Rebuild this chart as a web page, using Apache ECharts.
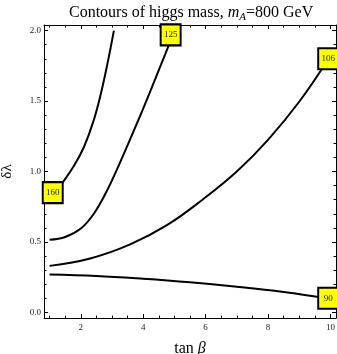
<!DOCTYPE html>
<html><head><meta charset="utf-8">
<script src="https://cdn.jsdelivr.net/npm/echarts@6/dist/echarts.min.js"></script>
<style>html,body{margin:0;padding:0;background:#fff}#c{width:337px;height:354px}</style>
</head><body><div id="c"></div>
<script>
// Contour lines (tan beta, delta lambda)
const tanBeta160 = [1.0, 1.4, 1.8, 2.1, 2.4, 2.65, 2.88, 3.06];
const dLambda160 = [0.80, 0.916, 1.048, 1.174, 1.354, 1.559, 1.794, 2.0];
const tanBeta125 = [1.0, 1.5, 2.0, 2.4, 2.8, 3.2, 3.7, 4.2, 4.7, 5.0];
const dLambda125 = [0.515, 0.535, 0.595, 0.695, 0.847, 1.035, 1.29, 1.555, 1.83, 2.0];
const tanBeta106 = [1.0, 2.3, 3.6, 4.8, 5.9, 7.0, 8.0, 9.0, 10.0];
const dLambda106 = [0.33, 0.383, 0.485, 0.625, 0.80, 1.0, 1.225, 1.495, 1.82];
const tanBeta90 = [1.0, 2.5, 4.0, 5.5, 7.0, 8.5, 10.0];
const dLambda90 = [0.268, 0.258, 0.238, 0.213, 0.182, 0.145, 0.097];
// Contour labels
const labelText = ['160', '125', '106', '90'];
const labelX = [1.10, 4.88, 9.93, 9.93];
const labelY = [0.85, 1.97, 1.80, 0.10];
// Ticks
const xMajorTicks = [2, 4, 6, 8, 10];
const xMinorTicks = [1, 1.5, 2.5, 3, 3.5, 4.5, 5, 5.5, 6.5, 7, 7.5, 8.5, 9, 9.5];
const yMajorTicks = [0, 0.5, 1.0, 1.5, 2.0];
const yMinorTicks = [0.1, 0.2, 0.3, 0.4, 0.6, 0.7, 0.8, 0.9, 1.1, 1.2, 1.3, 1.4, 1.6, 1.7, 1.8, 1.9];

const FONT = '"Liberation Serif", "Times New Roman", serif';
const X_MIN = 0.82, X_MAX = 10.18, Y_MIN = -0.04, Y_MAX = 2.04;

function zip(a, b) { return a.map((v, i) => [v, b[i]]); }

function xAx(pos, ticks, len, labels, line, extra) {
  return Object.assign({
    type: 'value', position: pos, min: X_MIN, max: X_MAX,
    axisLine: { show: line, onZero: false, lineStyle: { color: '#000', width: 1 } },
    axisTick: { show: true, inside: true, length: len, customValues: ticks, lineStyle: { color: '#000', width: 1 } },
    axisLabel: labels ? { show: true, customValues: ticks, fontFamily: FONT, fontSize: 9, color: '#222', margin: 5 } : { show: false },
    splitLine: { show: false }
  }, extra || {});
}
function yAx(pos, ticks, len, labels, line, extra) {
  return Object.assign({
    type: 'value', position: pos, min: Y_MIN, max: Y_MAX,
    axisLine: { show: line, onZero: false, lineStyle: { color: '#000', width: 1 } },
    axisTick: { show: true, inside: true, length: len, customValues: ticks, lineStyle: { color: '#000', width: 1 } },
    axisLabel: labels ? { show: true, customValues: ticks, fontFamily: FONT, fontSize: 9, color: '#222', margin: 3,
      formatter: v => Number(v).toFixed(1) } : { show: false },
    splitLine: { show: false }
  }, extra || {});
}

const chart = echarts.init(document.getElementById('c'), null, { renderer: 'canvas' });
const lineStyle = { color: '#000', width: 2 };
function lineSeries(x, y) {
  return { type: 'line', xAxisIndex: 0, yAxisIndex: 0, data: zip(x, y), smooth: 0.4,
    showSymbol: false, symbol: 'none', lineStyle: lineStyle, silent: true, z: 3, clip: true };
}

chart.setOption({
  animation: false,
  backgroundColor: '#fff',
  title: {
    text: 'Contours of higgs mass, {i|m}{s|A}=800 GeV',
    left: 64, top: 0, padding: 5,
    textStyle: {
      fontFamily: FONT, fontSize: 16, fontWeight: 'normal', color: '#000', lineHeight: 16,
      rich: {
        i: { fontFamily: FONT, fontSize: 16, fontStyle: 'italic', lineHeight: 16, verticalAlign: 'top' },
        s: { fontFamily: FONT, fontSize: 11, fontStyle: 'italic', lineHeight: 11, padding: [7, 0, 0, 0], verticalAlign: 'top' }
      }
    }
  },
  grid: { left: 44, top: 25, width: 292, height: 293, containLabel: false, outerBoundsMode: 'none' },
  xAxis: [
    xAx('bottom', xMajorTicks, 4, true, true, {
      name: 'tan {b|β}', nameLocation: 'middle', nameGap: 23,
      nameTextStyle: { fontFamily: FONT, fontSize: 16, color: '#000',
        rich: { b: { fontFamily: FONT, fontSize: 16, fontStyle: 'italic', color: '#000' } } }
    }),
    xAx('bottom', xMinorTicks, 2.5, false, false),
    xAx('top', xMajorTicks, 4, false, true),
    xAx('top', xMinorTicks, 2.5, false, false)
  ],
  yAxis: [
    yAx('left', yMajorTicks, 4, true, true, {
      name: 'δλ', nameLocation: 'middle', nameGap: 29,
      nameTextStyle: { fontFamily: FONT, fontSize: 15, color: '#000' }
    }),
    yAx('left', yMinorTicks, 2.5, false, false),
    yAx('right', yMajorTicks, 4, false, true),
    yAx('right', yMinorTicks, 2.5, false, false)
  ],
  series: [
    lineSeries(tanBeta160, dLambda160),
    lineSeries(tanBeta125, dLambda125),
    lineSeries(tanBeta106, dLambda106),
    lineSeries(tanBeta90, dLambda90),
    {
      type: 'scatter', xAxisIndex: 0, yAxisIndex: 0, symbol: 'rect', symbolSize: [20, 21], z: 10, silent: true,
      itemStyle: { color: '#ffff00', borderColor: '#000', borderWidth: 2, opacity: 1 },
      data: labelText.map((t, i) => ({ value: [labelX[i], labelY[i], t] })),
      label: {
        show: true, position: 'inside', formatter: p => p.value[2],
        fontFamily: FONT, fontSize: 9, color: '#222', textBorderWidth: 0, textBorderColor: 'transparent'
      }
    }
  ]
});
</script></body></html>
